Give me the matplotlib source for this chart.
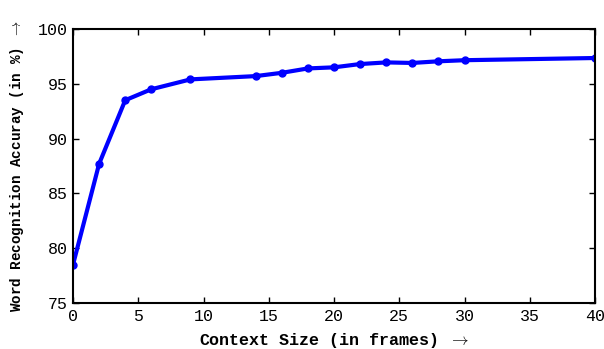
import matplotlib
matplotlib.use("Agg")
import matplotlib.pyplot as plt

# context size (frames) vs word recognition accuracy (%)
context_size = [0, 2, 4, 6, 9, 14, 16, 18, 20, 22, 24, 26, 28, 30, 40]
accuracy = [78.5, 87.7, 93.5, 94.5, 95.4, 95.7, 96.0, 96.4, 96.5, 96.8,
            96.95, 96.9, 97.05, 97.15, 97.35]

x_ticks = [0, 5, 10, 15, 20, 25, 30, 35, 40]
y_ticks = [75, 80, 85, 90, 95, 100]

plt.rcParams['font.family'] = ['Liberation Mono', 'DejaVu Sans']
plt.rcParams['mathtext.fontset'] = 'cm'

fig = plt.figure(figsize=(6.04, 3.49), dpi=100)
ax = fig.add_axes([0.1209, 0.1318, 0.8642, 0.7852])

ax.plot(context_size, accuracy, color='#0000ff', lw=3, marker='o', ms=5)

ax.set_xlim(0, 40)
ax.set_ylim(75, 100)
ax.set_xticks(x_ticks)
ax.set_yticks(y_ticks)
ax.tick_params(direction='in', top=True, right=True, length=4, width=1,
               labelsize=12, pad=4)
for s in ax.spines.values():
    s.set_linewidth(1.5)

ax.set_xlabel('Context Size (in frames) $\\rightarrow$', fontsize=12,
              fontweight='bold', labelpad=5)
ax.set_ylabel('Word Recognition Accuray (in %) $\\rightarrow$', fontsize=10.3,
              fontweight='bold', labelpad=8)

fig.savefig('out.png', dpi=100)
